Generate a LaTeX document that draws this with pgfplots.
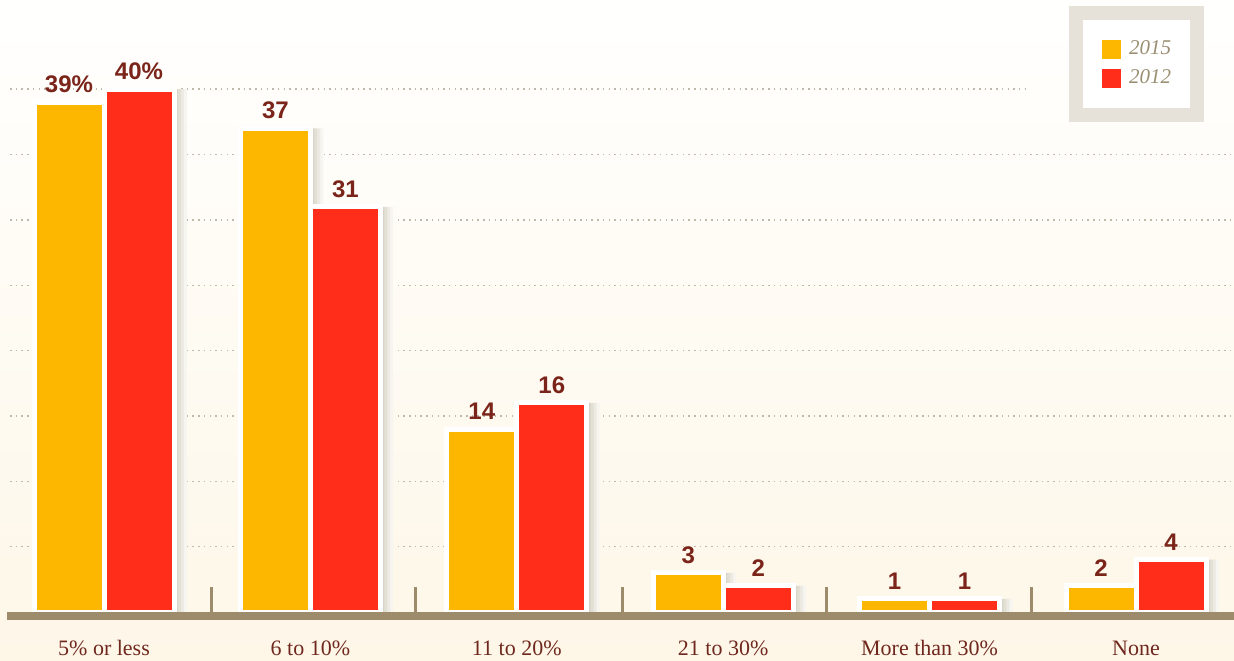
\documentclass[border=0pt]{standalone}
\usepackage{pgfplots}
\pgfplotsset{compat=1.18}
\usepackage{fontspec}
\setmainfont{Liberation Serif}
\setsansfont{Liberation Sans}
\definecolor{cyel}{RGB}{253,183,0}
\definecolor{cred}{RGB}{255,45,26}
\definecolor{clab}{RGB}{122,36,26}
\definecolor{ctick}{RGB}{112,40,30}
\definecolor{cbase}{RGB}{157,140,108}
\definecolor{cgrid}{RGB}{190,185,170}
\definecolor{cleg}{RGB}{230,226,218}
\definecolor{clegtxt}{RGB}{155,143,115}
\definecolor{cbgtop}{RGB}{255,255,254}
\definecolor{cbgbot}{RGB}{254,247,232}
\definecolor{csa}{RGB}{216,212,200}
\definecolor{csb}{RGB}{226,223,213}
\definecolor{csc}{RGB}{236,234,226}
\definecolor{csd}{RGB}{246,245,239}
\pgfplotstableread{
x y15 y12
0 39 40
1 37 31
2 14 16
3 3  2
4 1  1
5 2  4
}\datatab
\pgfplotsset{
  shadow/.style={forget plot, ybar, bar width=1.7pt, draw=none},
  grd/.style={forget plot, no marks, cgrid, line width=0.7pt, dash pattern=on 0.75pt off 2.1pt},
}
\begin{document}
\begin{tikzpicture}
\shade[top color=cbgtop, bottom color=cbgbot] (0,0) rectangle (617pt,330pt);
\begin{axis}[
 at={(0pt,24pt)}, anchor=south west,
 scale only axis, width=617pt, height=306pt,
 xmin=-0.50388, xmax=5.47481, ymin=0, ymax=46.82,
 clip=false,
 axis line style={draw=none},
 ytick=\empty,
 xtick={0,1,2,3,4,5},
 xticklabels={5\% or less, 6 to 10\%, 11 to 20\%, 21 to 30\%, More than 30\%, None},
 xtick pos=bottom,
 tick align=inside,
 major tick length=0pt,
 tick style={draw=cbase, line width=1.5pt},
 xticklabel style={anchor=base, yshift=-21.5pt, font=\fontsize{11}{13}\selectfont, text=ctick},
 extra x ticks={0.523,1.507,2.51,3.498,4.496},
 extra x tick labels={},
 extra x tick style={major tick length=12.5pt},
 legend style={at={(rel axis cs:0.97002,0.97876)}, anchor=north east,
   draw=cleg, line width=7pt, fill=white, outer sep=0pt,
   inner xsep=13pt, inner ysep=13.5pt,
   font=\fontsize{10.5}{12}\selectfont\itshape, text=clegtxt,
   row sep=5pt, column sep=4pt, nodes={inner sep=0pt}},
 legend cell align=left,
]
% grid lines
\addplot[grd] coordinates {(-0.4554,5)(5.47481,5)};
\addplot[grd] coordinates {(-0.4554,10)(5.47481,10)};
\addplot[grd] coordinates {(-0.4554,15)(5.47481,15)};
\addplot[grd] coordinates {(-0.4554,20)(5.47481,20)};
\addplot[grd] coordinates {(-0.4554,25)(5.47481,25)};
\addplot[grd] coordinates {(-0.4554,30)(5.47481,30)};
\addplot[grd] coordinates {(-0.4554,35)(5.47481,35)};
\addplot[grd] coordinates {(-0.4554,40)(4.486,40)};
% shadows (stepped fade to the right of each bar)
\addplot[shadow, bar shift=5.55pt, fill=csd] table[x=x, y=y15] {\datatab};
\addplot[shadow, bar shift=4.05pt, fill=csc] table[x=x, y=y15] {\datatab};
\addplot[shadow, bar shift=2.55pt, fill=csb] table[x=x, y=y15] {\datatab};
\addplot[shadow, bar shift=1.05pt, fill=csa] table[x=x, y=y15] {\datatab};
\addplot[shadow, bar shift=40.55pt, fill=csd] table[x=x, y=y12] {\datatab};
\addplot[shadow, bar shift=39.05pt, fill=csc] table[x=x, y=y12] {\datatab};
\addplot[shadow, bar shift=37.55pt, fill=csb] table[x=x, y=y12] {\datatab};
\addplot[shadow, bar shift=36.05pt, fill=csa] table[x=x, y=y12] {\datatab};
% bars
\addplot[ybar, bar width=35pt, bar shift=-17.5pt, fill=cyel, draw=white, line width=2.5pt,
  nodes near coords, point meta=explicit symbolic,
  every node near coord/.append style={font=\sffamily\bfseries\fontsize{12}{14}\selectfont, text=clab, xshift=-17.5pt},
  legend image code/.code={\fill[cyel] (0pt,-3.5pt) rectangle (7pt,3.5pt);}]
  coordinates {(0,39) [39\%] (1,37) [37] (2,14) [14] (3,3) [3] (4,1) [1] (5,2) [2]};
\addlegendentry{2015}
\addplot[ybar, bar width=35pt, bar shift=17.5pt, fill=cred, draw=white, line width=2.5pt,
  nodes near coords, point meta=explicit symbolic,
  every node near coord/.append style={font=\sffamily\bfseries\fontsize{12}{14}\selectfont, text=clab, xshift=17.5pt},
  legend image code/.code={\fill[cred] (0pt,-3.5pt) rectangle (7pt,3.5pt);}]
  coordinates {(0,40) [40\%] (1,31) [31] (2,16) [16] (3,2) [2] (4,1) [1] (5,4) [4]};
\addlegendentry{2012}
% baseline
\addplot[forget plot, no marks, cbase, line width=4pt] coordinates {(-0.4685,-0.306)(5.47481,-0.306)};
\end{axis}
\pgfresetboundingbox
\path (0,0) rectangle (617pt,330pt);
\end{tikzpicture}
\end{document}
